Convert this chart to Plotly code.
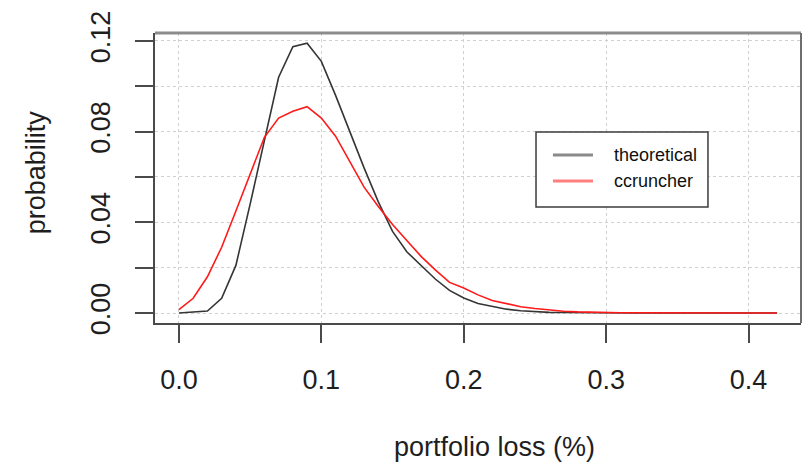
import plotly.graph_objects as go

# portfolio loss grid (fraction of exposure)
loss = [0.00, 0.01, 0.02, 0.03, 0.04, 0.05, 0.06, 0.07, 0.08, 0.09,
        0.10, 0.11, 0.12, 0.13, 0.14, 0.15, 0.16, 0.17, 0.18, 0.19,
        0.20, 0.21, 0.22, 0.23, 0.24, 0.25, 0.26, 0.27, 0.28, 0.29,
        0.30, 0.31, 0.32, 0.33, 0.34, 0.35, 0.36, 0.37, 0.38, 0.39,
        0.40, 0.41, 0.42]

# theoretical loss distribution
theoretical = [0.0000, 0.0003, 0.0009, 0.0065, 0.0210, 0.0480, 0.0760, 0.1040, 0.1175, 0.1190,
               0.1110, 0.0960, 0.0800, 0.0640, 0.0490, 0.0360, 0.0270, 0.0210, 0.0150, 0.0100,
               0.0066, 0.0042, 0.0028, 0.0017, 0.0010, 0.0006, 0.0003, 0.0002, 0.0001, 0.0001,
               0.0000, 0.0000, 0.0000, 0.0000, 0.0000, 0.0000, 0.0000, 0.0000, 0.0000, 0.0000,
               0.0000, 0.0000, 0.0000]

# simulated loss distribution (ccruncher)
ccruncher = [0.0015, 0.0065, 0.0160, 0.0290, 0.0450, 0.0615, 0.0775, 0.0860, 0.0890, 0.0910,
             0.0860, 0.0780, 0.0670, 0.0555, 0.0470, 0.0390, 0.0320, 0.0250, 0.0190, 0.0135,
             0.0110, 0.0080, 0.0055, 0.0040, 0.0028, 0.0020, 0.0013, 0.0008, 0.0005, 0.0003,
             0.0002, 0.0001, 0.0001, 0.0001, 0.0000, 0.0000, 0.0000, 0.0000, 0.0000, 0.0000,
             0.0000, 0.0000, 0.0000]

x_ticks = [0.0, 0.1, 0.2, 0.3, 0.4]
x_tick_labels = ["0.0", "0.1", "0.2", "0.3", "0.4"]
y_ticks = [0.00, 0.02, 0.04, 0.06, 0.08, 0.10, 0.12]
y_tick_labels = ["0.00", "", "0.04", "", "0.08", "", "0.12"]

series_names = ["theoretical", "ccruncher"]
line_colors = ["#353535", "#ff1a1a"]
legend_colors = ["#8a8a8a", "#ff7f7f"]

FONT = "Arial, Liberation Sans, sans-serif"
TXT = "#1e1e1e"

fig = go.Figure()
for ys, name, col in zip([theoretical, ccruncher], series_names, line_colors):
    fig.add_trace(go.Scatter(x=loss, y=ys, mode="lines", name=name,
                             line=dict(color=col, width=1.6), showlegend=False))

axis_common = dict(
    showgrid=True, gridcolor="#d0d0d0", griddash="dot", gridwidth=1,
    zeroline=False, showline=True, linecolor="#4a4a4a", linewidth=2, mirror=False,
    ticks="outside", ticklen=18, tickwidth=2, tickcolor="#4a4a4a",
    tickfont=dict(family=FONT, size=27, color=TXT),
)

fig.update_layout(
    width=802, height=463,
    margin=dict(l=155, r=1, t=33, b=140),
    paper_bgcolor="white", plot_bgcolor="white",
    xaxis=dict(range=[-0.0168, 0.4368], tickvals=x_ticks, ticktext=x_tick_labels,
               ticklabelstandoff=14, **axis_common),
    yaxis=dict(range=[-0.0044, 0.1235], tickvals=y_ticks, ticktext=y_tick_labels,
               tickangle=-90, ticklabelstandoff=14, **axis_common),
)

# top and right sides of the frame
fig.add_shape(type="line", xref="paper", yref="paper", x0=0, x1=1, y0=1, y1=1,
              line=dict(color="#8c8c8c", width=3))
fig.add_shape(type="line", xref="paper", yref="paper", x0=1, x1=1, y0=0, y1=1,
              line=dict(color="#6e6e6e", width=2))

# axis titles
fig.add_annotation(text="portfolio loss (%)", xref="paper", yref="paper",
                   x=0.526, y=0, yshift=-124, showarrow=False,
                   xanchor="center", yanchor="middle",
                   font=dict(family=FONT, size=27, color=TXT))
fig.add_annotation(text="probability", xref="paper", yref="paper",
                   x=0, y=0.52, xshift=-119, showarrow=False, textangle=-90,
                   xanchor="center", yanchor="middle",
                   font=dict(family=FONT, size=27, color=TXT))

# legend box
fig.add_shape(type="rect", xref="paper", yref="paper",
              x0=0.5898, x1=0.856, y0=0.40, y1=0.6586,
              line=dict(color="#3c3c3c", width=1.5), fillcolor="white")
for i, (name, col) in enumerate(zip(series_names, legend_colors)):
    yy = [0.5793, 0.4897][i]
    fig.add_shape(type="line", xref="paper", yref="paper",
                  x0=0.616, x1=0.678, y0=yy, y1=yy,
                  line=dict(color=col, width=3))
    fig.add_annotation(text=name, xref="paper", yref="paper", x=0.7074, y=yy,
                       xanchor="left", yanchor="middle", showarrow=False,
                       font=dict(family=FONT, size=18, color="#111111"))

fig.write_html("out.html")
